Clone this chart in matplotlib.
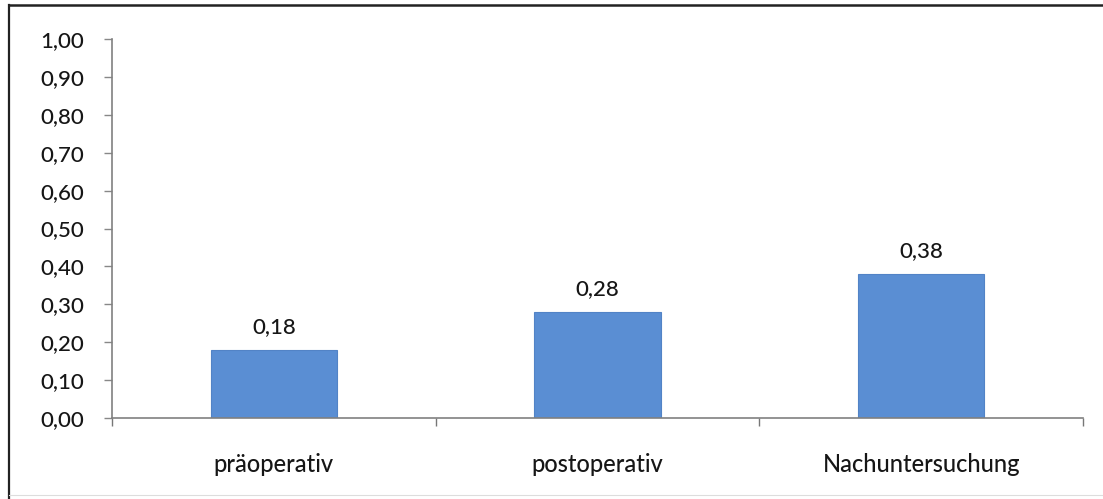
import matplotlib
matplotlib.use("Agg")
import matplotlib.pyplot as plt
from matplotlib.lines import Line2D
import numpy as np

categories = ["präoperativ", "postoperativ", "Nachuntersuchung"]
values = [0.18, 0.28, 0.38]
y_ticks = [0.0, 0.1, 0.2, 0.3, 0.4, 0.5, 0.6, 0.7, 0.8, 0.9, 1.0]

W, H, DPI = 1103, 499, 100
plt.rcParams["font.family"] = ["Lato", "DejaVu Sans"]
plt.rcParams["font.weight"] = "medium"

fig = plt.figure(figsize=(W / DPI, H / DPI), dpi=DPI, facecolor="white")
ax = fig.add_axes([112 / W, (H - 418) / H, (1083 - 112) / W, (418 - 39) / H])

x = np.arange(len(categories))
bars = ax.bar(x, values, width=0.39, color="#5A8ED3", edgecolor="#5283C6",
              linewidth=0.8, zorder=2)

def comma(v):
    return f"{v:.2f}".replace(".", ",")

TXT = "#161616"
for xi, v in zip(x, values):
    ax.annotate(comma(v), (xi, v), xytext=(0, 9), textcoords="offset points",
                ha="center", va="bottom", fontsize=16, color=TXT)

ax.set_xlim(-0.5, len(categories) - 0.5)
ax.set_ylim(0, 1.0)
ax.set_yticks(y_ticks)
ax.set_yticklabels([comma(t) for t in y_ticks], fontsize=16, color=TXT)

# category boundaries carry tick marks, centers carry labels
ax.set_xticks(np.arange(len(categories) + 1) - 0.5)
ax.set_xticklabels([])
ax.set_xticks(x, minor=True)
ax.set_xticklabels(categories, minor=True, fontsize=17, color=TXT)
ax.tick_params(axis="x", which="minor", length=0, pad=25)
ax.tick_params(axis="x", which="major", length=6, width=1, color="#777777",
               direction="out")
ax.tick_params(axis="y", length=6, width=1, color="#888888", direction="out",
               pad=14)

for s in ("top", "right"):
    ax.spines[s].set_visible(False)
for s in ("left", "bottom"):
    ax.spines[s].set_color("#808080")
    ax.spines[s].set_linewidth(1.2)

# outer frame around the chart area
fig.add_artist(Line2D([8.5 / W, 8.5 / W], [0, 1 - 5 / H], transform=fig.transFigure,
                      color="#222222", linewidth=1.6))
fig.add_artist(Line2D([8.5 / W, 1], [1 - 5 / H, 1 - 5 / H], transform=fig.transFigure,
                      color="#222222", linewidth=1.8))
fig.add_artist(Line2D([8.5 / W, 1], [4 / H, 4 / H], transform=fig.transFigure,
                      color="#dddddd", linewidth=0.8))

fig.savefig("out.png", dpi=DPI, facecolor="white")
